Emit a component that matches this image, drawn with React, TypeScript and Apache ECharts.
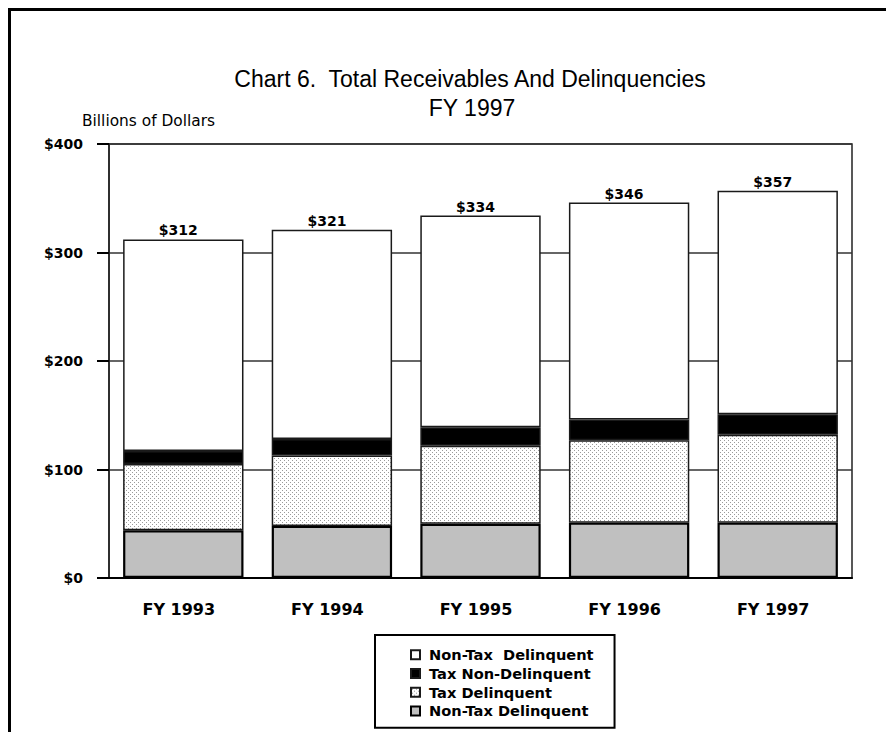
import React, { useEffect, useRef } from "react";
import * as echarts from "echarts";

const categories = ["FY 1993", "FY 1994", "FY 1995", "FY 1996", "FY 1997"];
const totals = [312, 321, 334, 346, 357];
const nonTaxDelinquentGray = [44, 48, 50, 51, 51];
const taxDelinquent = [61, 65, 72, 76, 81];
const taxNonDelinquent = [12, 15, 17, 19, 19];
const nonTaxTop = [195, 193, 195, 200, 206];
const yTickValues = [0, 100, 200, 300, 400];

const nameTop = "Non-Tax  Delinquent";
const nameBlack = "Tax Non-Delinquent";
const nameDotted = "Tax Delinquent";
const nameGray = "Non-Tax Delinquent";

export default function App() {
  const ref = useRef<HTMLDivElement>(null);
  useEffect(() => {
    const el = ref.current!;
    const chart = echarts.init(el, null, { renderer: "svg" });
    const cv = document.createElement("canvas");
    cv.width = 4;
    cv.height = 4;
    const ctx = cv.getContext("2d")!;
    ctx.fillStyle = "#ffffff";
    ctx.fillRect(0, 0, 4, 4);
    ctx.fillStyle = "#9a9a9a";
    ctx.fillRect(1, 1, 1, 1);
    ctx.fillRect(3, 3, 1, 1);
    const font = '"Liberation Sans", Arial, sans-serif';
    const wide = '"DejaVu Sans", Verdana, sans-serif';
    const border = { borderColor: "#1a1a1a", borderWidth: 1.5 };
    chart.setOption({
      animation: false,
      textStyle: { fontFamily: font },
      title: [
        {
          text: "Chart 6.  Total Receivables And Delinquencies",
          left: 459,
          top: 56,
          textAlign: "center",
          padding: 0,
          textStyle: { fontSize: 23, fontWeight: "normal", color: "#000", fontFamily: font },
        },
        {
          text: "FY 1997",
          left: 461,
          top: 85,
          textAlign: "center",
          padding: 0,
          textStyle: { fontSize: 23, fontWeight: "normal", color: "#000", fontFamily: font },
        },
        {
          text: "Billions of Dollars",
          left: 71,
          top: 102,
          padding: 0,
          textStyle: { fontSize: 15.4, fontWeight: "normal", color: "#000", fontFamily: wide },
        },
      ],
      grid: {
        left: 98,
        right: 34,
        top: 133,
        bottom: 154,
        show: true,
        borderColor: "#222",
        borderWidth: 1.5,
        backgroundColor: "transparent",
      },
      xAxis: {
        type: "category",
        data: categories,
        axisTick: { show: false },
        axisLine: { lineStyle: { color: "#000", width: 2 } },
        axisLabel: {
          fontWeight: "bold",
          fontSize: 16,
          color: "#000",
          margin: 23,
          fontFamily: wide,
          padding: [0, 9, 0, 0],
        },
      },
      yAxis: {
        type: "value",
        min: yTickValues[0],
        max: yTickValues[yTickValues.length - 1],
        interval: 100,
        axisLine: { show: true, lineStyle: { color: "#222", width: 1.5 } },
        axisTick: { show: true, length: 12, lineStyle: { color: "#000", width: 2 } },
        axisLabel: {
          formatter: (v: number) => "$" + v,
          fontWeight: "bold",
          fontSize: 14,
          color: "#000",
          margin: 26,
          fontFamily: wide,
        },
        splitLine: { lineStyle: { color: "#333", width: 1.5 } },
      },
      legend: {
        orient: "vertical",
        left: 364,
        top: 624,
        data: [nameTop, nameBlack, nameDotted, nameGray],
        borderColor: "#000",
        borderWidth: 2,
        padding: [12, 21, 9, 35],
        itemGap: 3.1,
        itemWidth: 9,
        itemHeight: 9,
        icon: "rect",
        textStyle: {
          fontWeight: "bold",
          fontSize: 14.6,
          lineHeight: 15.6,
          color: "#000",
          fontFamily: wide,
          padding: [0, 0, 0, 4],
        },
      },
      series: [
        {
          name: nameGray,
          type: "bar",
          stack: "total",
          barWidth: "81%",
          data: nonTaxDelinquentGray,
          itemStyle: { color: "#c0c0c0", borderColor: "#000", borderWidth: 2.2 },
        },
        {
          name: nameDotted,
          type: "bar",
          stack: "total",
          data: taxDelinquent,
          itemStyle: { color: { image: cv, repetition: "repeat" }, ...border },
        },
        {
          name: nameBlack,
          type: "bar",
          stack: "total",
          data: taxNonDelinquent,
          itemStyle: { color: "#000", ...border },
        },
        {
          name: nameTop,
          type: "bar",
          stack: "total",
          data: nonTaxTop,
          itemStyle: { color: "#fff", ...border },
          label: {
            show: true,
            position: "top",
            distance: 2,
            offset: [-5, 0],
            formatter: (p: any) => "$" + totals[p.dataIndex],
            fontWeight: "bold",
            fontSize: 14,
            color: "#000",
            fontFamily: wide,
          },
        },
      ],
    });
    return () => chart.dispose();
  }, []);
  return (
    <div
      style={{
        position: "absolute",
        left: 8,
        top: 8,
        width: 875,
        height: 721,
        borderTop: "3px solid #000",
        borderLeft: "3px solid #000",
      }}
    >
      <div ref={ref} style={{ width: 875, height: 721 }} />
    </div>
  );
}
